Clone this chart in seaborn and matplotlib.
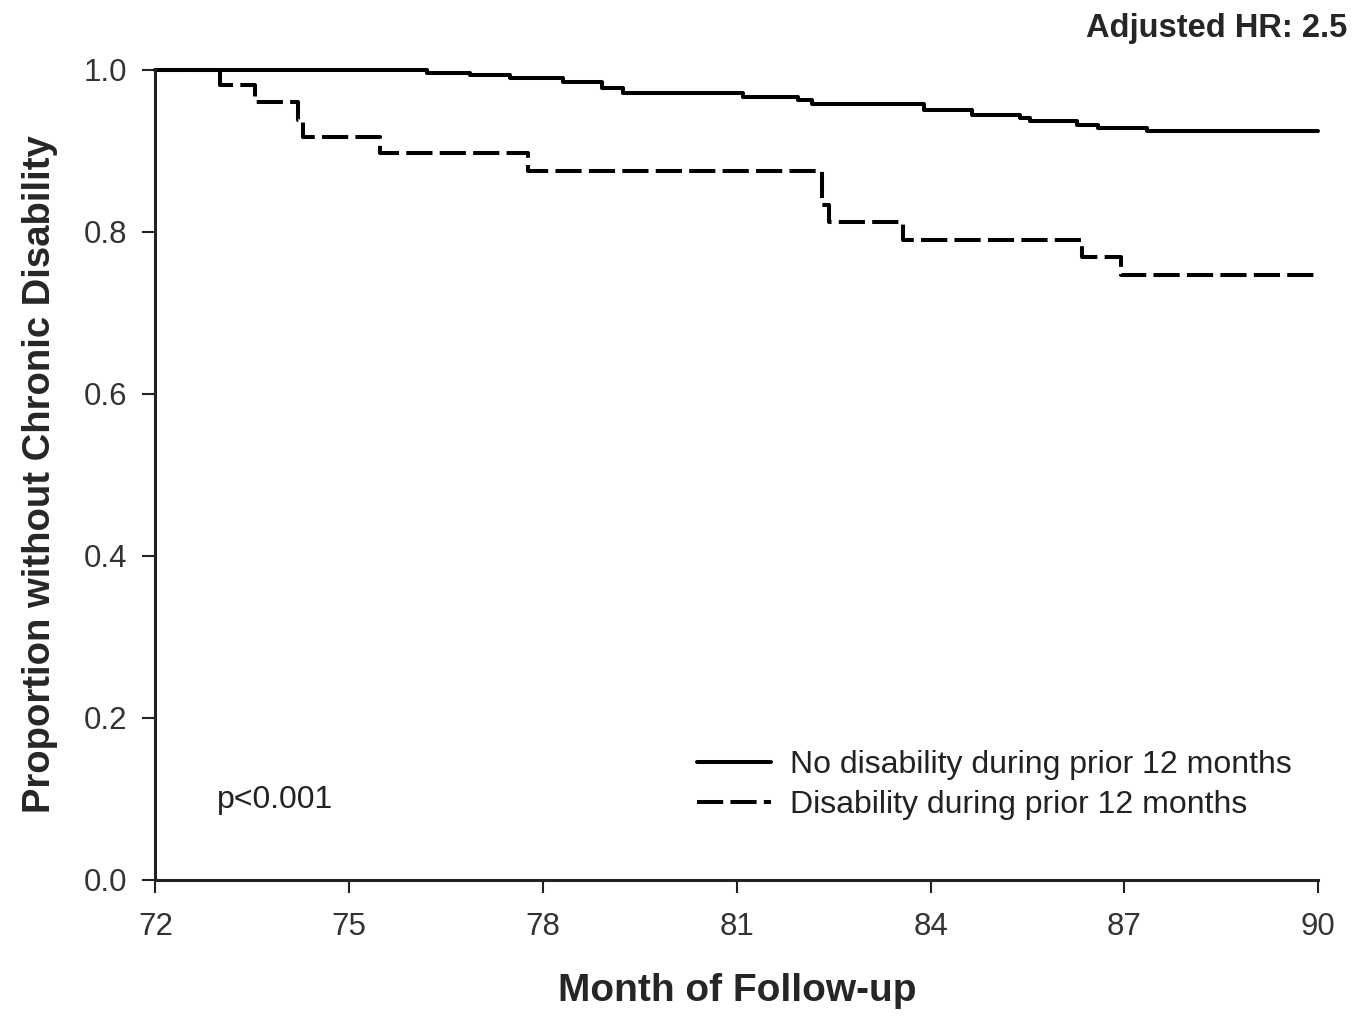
import matplotlib
matplotlib.use("Agg")
import matplotlib.pyplot as plt
import pandas as pd
import seaborn as sns

sns.set_theme(style="ticks")
plt.rcParams["font.family"] = ["Liberation Sans", "DejaVu Sans"]

# Kaplan-Meier step curves
groups = ["No disability during prior 12 months", "Disability during prior 12 months"]

month_no = [72, 76.20, 76.87, 77.49, 78.31, 78.91, 79.24, 81.10, 81.94, 82.17,
            83.89, 84.64, 85.39, 85.54, 86.27, 86.59, 87.35, 90]
surv_no = [1.0, 0.996, 0.993, 0.990, 0.985, 0.977, 0.971, 0.966, 0.962, 0.957,
           0.950, 0.944, 0.940, 0.936, 0.932, 0.928, 0.924, 0.924]

month_dis = [72, 73.00, 73.54, 74.21, 74.29, 75.48, 77.77, 82.32, 82.42,
             83.58, 86.34, 86.94, 90]
surv_dis = [1.0, 0.981, 0.960, 0.938, 0.917, 0.897, 0.875, 0.833, 0.812,
            0.790, 0.768, 0.746, 0.746]

x_ticks = [72, 75, 78, 81, 84, 87, 90]
y_ticks = [0.0, 0.2, 0.4, 0.6, 0.8, 1.0]

df = pd.concat([
    pd.DataFrame({"month": month_no, "surv": surv_no, "group": groups[0]}),
    pd.DataFrame({"month": month_dis, "surv": surv_dis, "group": groups[1]}),
])

fig = plt.figure(figsize=(13.52, 10.18), dpi=100)
ax = fig.add_axes([0.115, 0.136, 0.86, 0.7957])

sns.lineplot(
    data=df, x="month", y="surv",
    hue="group", style="group", hue_order=groups, style_order=groups,
    palette=["black", "black"], dashes=["", (6.5, 1.8)],
    estimator=None, drawstyle="steps-post", linewidth=2.9, ax=ax,
)
for ln in ax.lines:
    ln.set_clip_on(False)

ax.set_xlim(72, 90)
ax.set_ylim(0, 1.0)
ax.set_xticks(x_ticks)
ax.set_yticks(y_ticks)
ax.set_yticklabels([f"{v:.1f}" for v in y_ticks])
sns.despine(ax=ax)
for s in ["left", "bottom"]:
    ax.spines[s].set_linewidth(2.2)
    ax.spines[s].set_color("#222222")
ax.tick_params(axis="both", length=9.4, width=1.5, color="#222222",
               labelsize=22.5, labelcolor="#333333")
ax.tick_params(axis="x", pad=14)
ax.tick_params(axis="y", pad=11)

ax.set_xlabel("Month of Follow-up", fontsize=28, fontweight="bold")
ax.xaxis.set_label_coords(0.5, -0.115)
ax.set_ylabel("Proportion without Chronic Disability", fontsize=27.5, fontweight="bold")
ax.yaxis.set_label_coords(-0.084, 0.5)

handles, labels = ax.get_legend_handles_labels()
ax.legend(handles, labels, loc="upper left", bbox_to_anchor=(0.466, 0.160),
          frameon=False, fontsize=23, handlelength=2.3, handletextpad=0.6,
          labelspacing=0.32, borderpad=0, borderaxespad=0, labelcolor="#222222")

ax.text(0.053, 0.098, "p<0.001", transform=ax.transAxes, va="center",
        fontsize=23, color="#222222")

fig.text(0.9963, 1 - 37 / 1018, "Adjusted HR: 2.5", ha="right", va="baseline",
         fontsize=23.5, fontweight="bold")

fig.savefig("out.png", dpi=100)
